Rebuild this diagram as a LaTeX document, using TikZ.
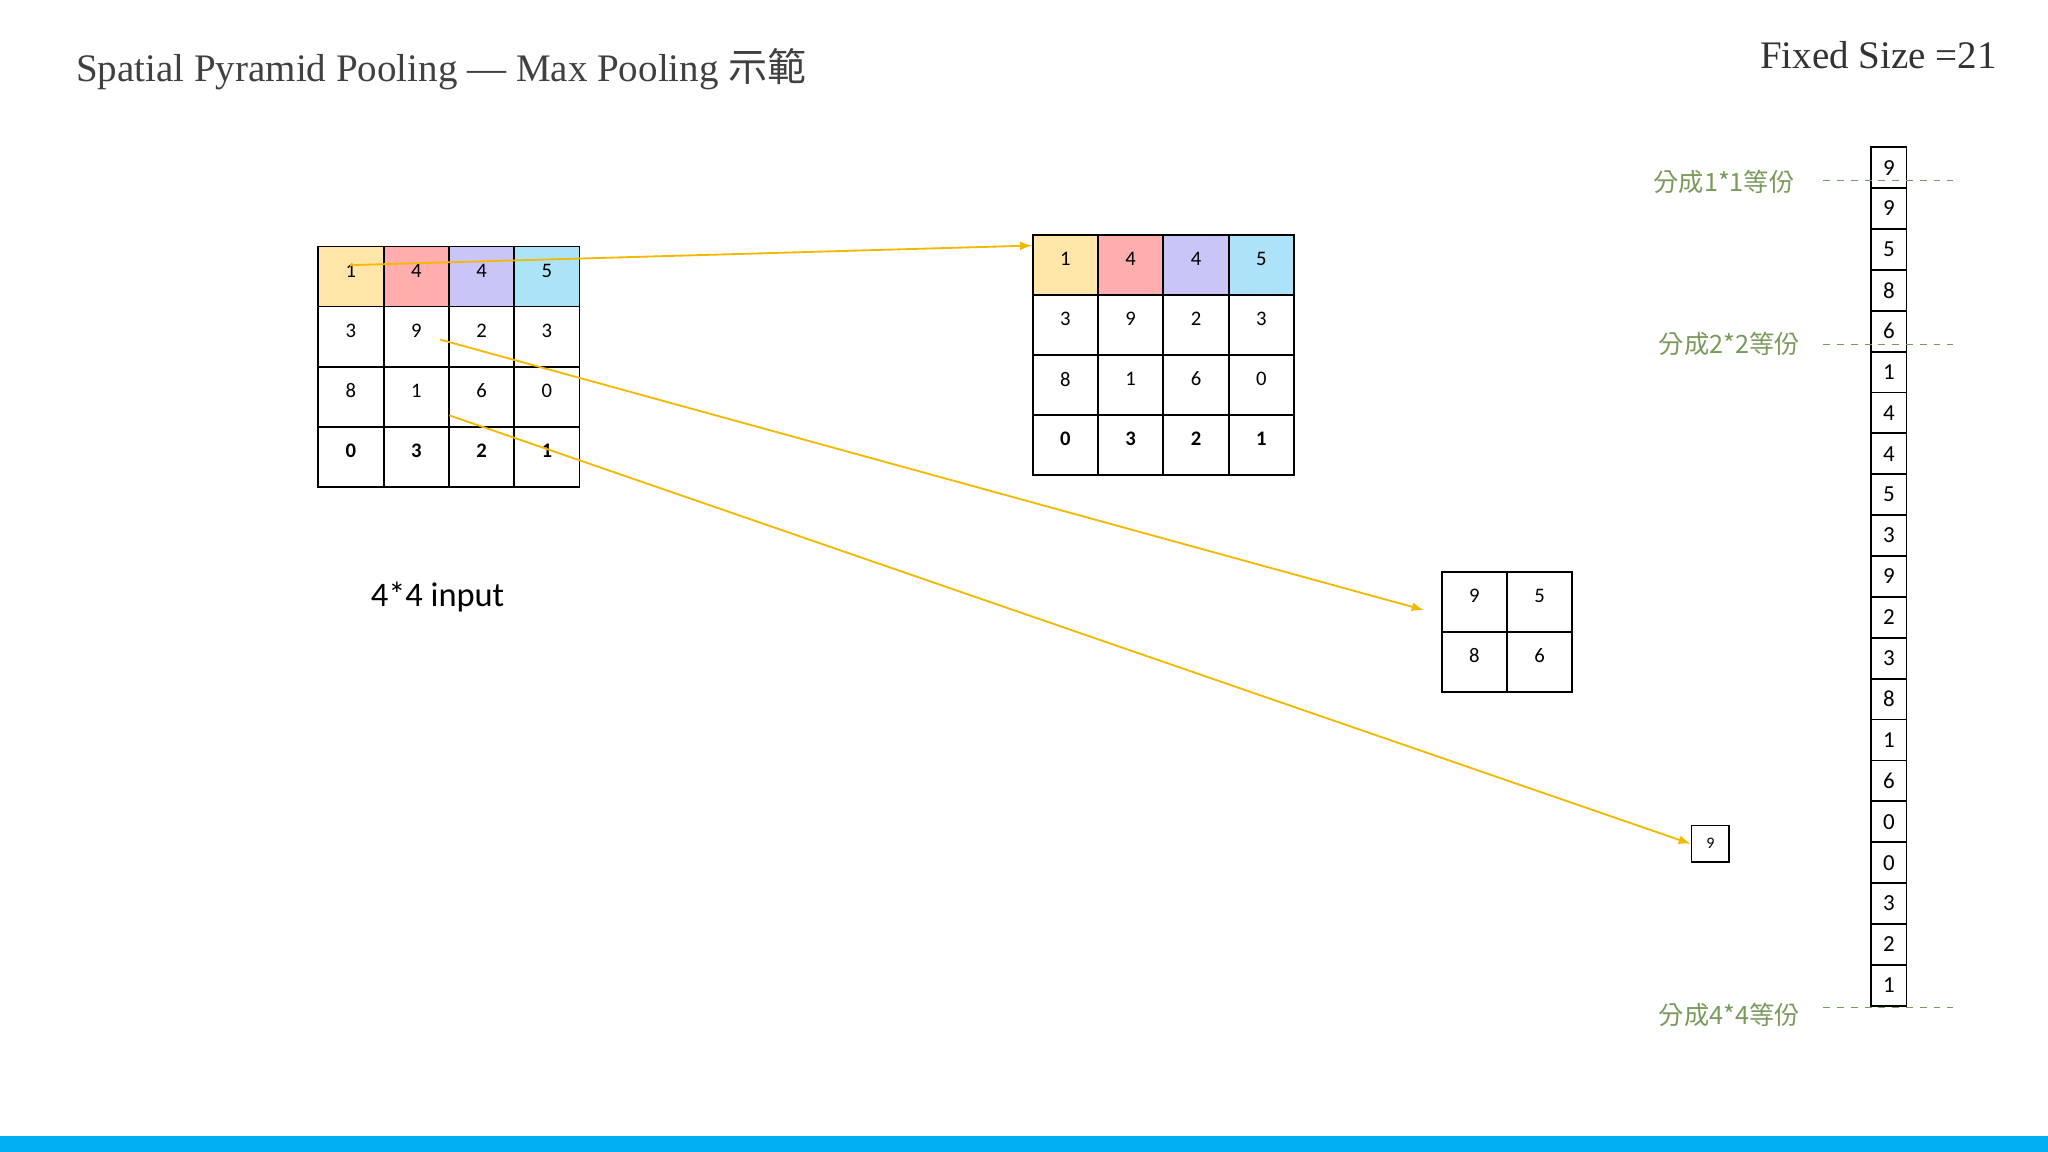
\documentclass[tikz,border=0pt]{standalone}
\usepackage{fontspec}
\setmainfont{Liberation Serif}
\setsansfont{Carlito}
\newfontfamily\cjk{Noto Sans CJK TC}
\usetikzlibrary{positioning}
\definecolor{cyel}{HTML}{FFE6A8}
\definecolor{cred}{HTML}{FFADAD}
\definecolor{cpur}{HTML}{C9C5F7}
\definecolor{cblu}{HTML}{ADE3F8}
\definecolor{lbl}{HTML}{7A9A5C}
\definecolor{arr}{HTML}{F5B800}
\definecolor{bar}{HTML}{00B0F0}
\tikzset{
  cell/.style={draw,thick,minimum width=1cm,minimum height=0.92cm,inner sep=0pt,anchor=north west,font=\sffamily\fontsize{9}{9}\selectfont},
  vcell/.style={draw,thick,minimum width=0.54cm,minimum height=0.626cm,inner sep=0pt,anchor=north west,font=\sffamily\fontsize{10}{10}\selectfont},
  link/.style={arr,thick,-latex},
  part/.style={lbl,font=\cjk\fontsize{11}{11}\selectfont},
  partline/.style={lbl,dashed,thin}
}
% one 4*4 grid: name, left, top
\newcommand{\pgrid}[3]{%
\foreach \v [count=\i from 0] in {1,4,4,5,3,9,2,3,8,1,6,0,0,3,2,1}{
  \pgfmathtruncatemacro{\cc}{mod(\i,4)}
  \pgfmathtruncatemacro{\rr}{int(\i/4)}
  \ifnum\rr=0
    \ifcase\cc \def\fc{cyel}\or\def\fc{cred}\or\def\fc{cpur}\or\def\fc{cblu}\fi
  \else \def\fc{white}\fi
  \ifnum\rr=3
    \node[cell,fill=\fc,font=\sffamily\bfseries\fontsize{9}{9}\selectfont] (#1-\rr-\cc) at (#2+50*\cc,#3+46*\rr) {\raisebox{1.2ex}{\v}};
  \else
    \node[cell,fill=\fc] (#1-\rr-\cc) at (#2+50*\cc,#3+46*\rr) {\raisebox{1.2ex}{\v}};
  \fi
}}
\begin{document}
\begin{tikzpicture}[x=0.02cm,y=-0.02cm]
\useasboundingbox (0,0) rectangle (1568,882);
\fill[bar] (0,870) rectangle (1568,882);
\node[anchor=west,text=black!75,font=\fontsize{17}{17}\selectfont] (title) at (52,53) {Spatial Pyramid Pooling — Max Pooling {\cjk 示範}};
\node[anchor=east,text=black!80,font=\fontsize{17}{17}\selectfont] (size) at (1535,42) {Fixed Size =21};
% grids
\pgrid{in}{243}{188}
\pgrid{lvA}{790}{179}
\node[font=\sffamily\fontsize{15}{15}\selectfont] (inlbl) at (335,457) {4*4 input};
\foreach \v [count=\i from 0] in {9,5,8,6}{
  \pgfmathtruncatemacro{\cc}{mod(\i,2)}
  \pgfmathtruncatemacro{\rr}{int(\i/2)}
  \node[cell] (lvB-\rr-\cc) at (1103+50*\cc,437+46*\rr) {\raisebox{1.2ex}{\v}};
}
\node[draw,thick,minimum width=0.58cm,minimum height=0.56cm,inner sep=0pt,font=\sffamily\fontsize{7}{7}\selectfont] (lvC) at (1309.5,646) {9};
% output vector
\foreach \v [count=\i from 0] in {9,9,5,8,6,1,4,4,5,3,9,2,3,8,1,6,0,0,3,2,1}{
  \node[vcell] (out-\i) at (1432,112+31.3*\i) {\v};
}
% arrows
\coordinate (a1) at (268,203);
\coordinate (a2) at (337,260);
\coordinate (a3) at (344,318);
\draw[link] (a1) -- (lvA-0-0.west |- 0,188);
\draw[link] (a2) -- (1090,467) coordinate (b2);
\draw[link] (a3) -- (lvC.west);
% level labels
\node[part,anchor=east] (p1) at (1380,139) {分成1*1等份};
\node[part,anchor=east] (p2) at (1384,263) {分成2*2等份};
\node[part,anchor=east] (p3) at (1384,777) {分成4*4等份};
\draw[partline] (1396,138) -- (1495,138);
\draw[partline] (1396,264) -- (1495,264);
\draw[partline] (1396,771) -- (1495,771);
\end{tikzpicture}
\end{document}
